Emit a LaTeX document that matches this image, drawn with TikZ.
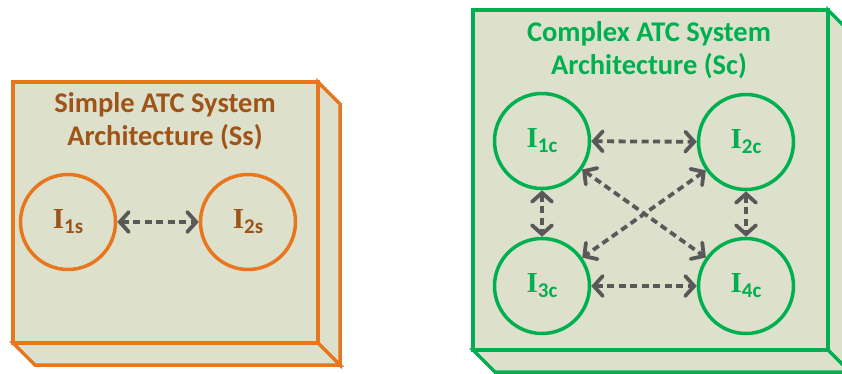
\documentclass[tikz,border=0pt]{standalone}
\usepackage{fontspec}
\setmainfont{Carlito}
\newfontfamily\serifI{Liberation Serif}
\usetikzlibrary{arrows.meta}
\definecolor{boxfill}{RGB}{221,225,204}
\definecolor{orangeline}{RGB}{232,118,30}
\definecolor{browntext}{RGB}{158,84,24}
\definecolor{greenline}{RGB}{0,176,80}
\definecolor{arrowgray}{RGB}{89,89,89}
\tikzset{
  boxface/.style={fill=boxfill, line width=3.5pt},
  titletext/.style={font=\fontsize{28.5}{33}\selectfont\bfseries, align=center},
  inst/.style={circle, minimum size=95pt, inner sep=0pt, line width=3.5pt, fill=boxfill},
  conn/.style={arrowgray, line width=3.8pt, dash pattern=on 7pt off 4.5pt,
    arrows={Straight Barb[length=9pt,width=20pt,line cap=round]-Straight Barb[length=9pt,width=20pt,line cap=round]}},
}
\newcommand{\instlabel}[2]{{\serifI\bfseries\fontsize{29}{29}\selectfont I}\raisebox{-5pt}{\bfseries\fontsize{21}{21}\selectfont #1#2}}
\begin{document}
\begin{tikzpicture}[x=1pt,y=-1pt]
\useasboundingbox (0,0) rectangle (842,373);
\clip (0,0) rectangle (842,373);
% left box
\draw[boxface, draw=orangeline] (318,82) -- (340,104) -- (340,365) -- (318,343) -- cycle;
\draw[boxface, draw=orangeline] (13,343) -- (35,365) -- (340,365) -- (318,343) -- cycle;
\draw[boxface, draw=orangeline] (13,82) rectangle (318,343);
\node[titletext, text=browntext] (ts) at (165,121) {Simple ATC System\\Architecture (Ss)};
\node[inst, draw=orangeline, text=browntext] (I1s) at (68,222) {\instlabel{1}{s}};
\node[inst, draw=orangeline, text=browntext] (I2s) at (248,222) {\instlabel{2}{s}};
\draw[conn] (I1s) -- (I2s);
% right box
\draw[boxface, draw=greenline] (828,10) -- (850,32) -- (850,372) -- (828,350) -- cycle;
\draw[boxface, draw=greenline] (473,350) -- (495,372) -- (850,372) -- (828,350) -- cycle;
\draw[boxface, draw=greenline] (473,10) rectangle (828,350);
\node[titletext, text=greenline] (tc) at (649,50) {Complex ATC System\\Architecture (Sc)};
\node[inst, draw=greenline, text=greenline] (I1c) at (542,141) {\instlabel{1}{c}};
\node[inst, draw=greenline, text=greenline] (I2c) at (746,142) {\instlabel{2}{c}};
\node[inst, draw=greenline, text=greenline] (I3c) at (542,286) {\instlabel{3}{c}};
\node[inst, draw=greenline, text=greenline] (I4c) at (746,286) {\instlabel{4}{c}};
\draw[conn] (I1c) -- (I2c);
\draw[conn] (I3c) -- (I4c);
\draw[conn] (I1c) -- (I3c);
\draw[conn] (I2c) -- (I4c);
\draw[conn] (I1c) -- (I4c);
\draw[conn] (I2c) -- (I3c);
\end{tikzpicture}
\end{document}
